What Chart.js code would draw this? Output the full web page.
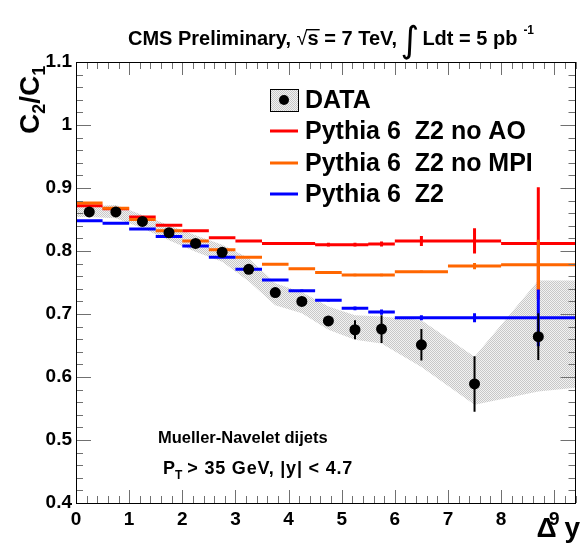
<!DOCTYPE html>
<html>
<head>
<meta charset="utf-8">
<script src="https://cdn.jsdelivr.net/npm/chart.js@4.4.0/dist/chart.umd.min.js"></script>
<style>
  html, body { margin: 0; padding: 0; background: #ffffff; }
  #wrap { position: relative; width: 581px; height: 545px; }
</style>
</head>
<body>
<div id="wrap"><canvas id="ratioChart" width="581" height="545"></canvas></div>
<script>
// Delta y binning
const binEdges = [0, 0.5, 1, 1.5, 2, 2.5, 3, 3.5, 4, 4.5, 5, 5.5, 6, 7, 8, 9.4];
const binCenters = [0.25, 0.75, 1.25, 1.75, 2.25, 2.75, 3.25, 3.75, 4.25, 4.75, 5.25, 5.75, 6.5, 7.5, 8.7];

// Data C2/C1 with stat errors
const dataValues = [0.862, 0.862, 0.847, 0.829, 0.812, 0.798, 0.771, 0.734, 0.720, 0.689, 0.675, 0.676, 0.651, 0.589, 0.664];
const dataErrors = [0.004, 0.004, 0.004, 0.004, 0.004, 0.004, 0.005, 0.005, 0.006, 0.008, 0.015, 0.022, 0.025, 0.044, 0.037];

// Systematic band around data
const bandX = [0, 0.25, 0.75, 1.25, 1.75, 2.25, 2.75, 3.25, 3.75, 4.25, 4.75, 5.25, 5.75, 6.5, 7.5, 8.7, 9.4];
const bandUpper = [0.871, 0.871, 0.873, 0.857, 0.841, 0.825, 0.810, 0.789, 0.749, 0.735, 0.712, 0.698, 0.696, 0.690, 0.632, 0.753, 0.753];
const bandLower = [0.854, 0.854, 0.852, 0.836, 0.817, 0.799, 0.783, 0.752, 0.714, 0.701, 0.675, 0.659, 0.653, 0.616, 0.556, 0.577, 0.583];

// Pythia 6 predictions
const noAoValues = [0.872, 0.867, 0.854, 0.841, 0.832, 0.821, 0.816, 0.812, 0.812, 0.810, 0.810, 0.811, 0.816, 0.816, 0.812];
const noAoErrors = [0.001, 0.001, 0.001, 0.001, 0.001, 0.001, 0.001, 0.001, 0.002, 0.003, 0.003, 0.004, 0.008, 0.020, 0.089];
const noMpiValues = [0.876, 0.868, 0.850, 0.832, 0.816, 0.802, 0.790, 0.779, 0.772, 0.766, 0.762, 0.762, 0.767, 0.776, 0.778];
const noMpiErrors = [0.001, 0.001, 0.001, 0.001, 0.001, 0.001, 0.001, 0.001, 0.001, 0.002, 0.002, 0.002, 0.002, 0.005, 0.040];
const z2Values = [0.848, 0.844, 0.835, 0.823, 0.808, 0.790, 0.771, 0.754, 0.737, 0.722, 0.709, 0.703, 0.694, 0.694, 0.694];
const z2Errors = [0.001, 0.001, 0.001, 0.001, 0.001, 0.001, 0.001, 0.001, 0.002, 0.002, 0.003, 0.004, 0.004, 0.007, 0.045];

// Axis tick labels
const xTickLabels = ["0", "1", "2", "3", "4", "5", "6", "7", "8", "9"];
const yTickLabels = ["0.4", "0.5", "0.6", "0.7", "0.8", "0.9", "1", "1.1"];

const legendLabels = ["DATA", "Pythia 6  Z2 no AO", "Pythia 6  Z2 no MPI", "Pythia 6  Z2"];

const RED = "#ff0000";
const ORANGE = "#ff6600";
const BLUE = "#0000ff";
const FONT = "'Liberation Sans', Arial, Helvetica, sans-serif";

// dotted grey fill like the ROOT band
function makeBandPattern() {
  const p = document.createElement("canvas");
  p.width = 2;
  p.height = 2;
  const pc = p.getContext("2d");
  pc.fillStyle = "#f2f2f2";
  pc.fillRect(0, 0, 2, 2);
  pc.fillStyle = "#c8c8c8";
  pc.fillRect(0, 0, 1, 1);
  pc.fillRect(1, 1, 1, 1);
  return pc.createPattern(p, "repeat");
}
const bandFill = makeBandPattern();

function histSegments(values) {
  const pts = [];
  values.forEach(function (v, i) {
    pts.push({ x: binEdges[i], y: v });
    pts.push({ x: binEdges[i + 1], y: v });
    pts.push({ x: binEdges[i + 1], y: null });
  });
  return pts;
}

function errorSegments(values, errors) {
  const pts = [];
  values.forEach(function (v, i) {
    pts.push({ x: binCenters[i], y: v - errors[i] });
    pts.push({ x: binCenters[i], y: v + errors[i] });
    pts.push({ x: binCenters[i], y: null });
  });
  return pts;
}

function lineSet(points, color, width) {
  return {
    type: "line",
    data: points,
    borderColor: color,
    borderWidth: width,
    pointRadius: 0,
    fill: false,
    spanGaps: false,
    tension: 0,
    borderCapStyle: "butt",
  };
}

// frame, ticks and all text, drawn the ROOT way
const rootStyle = {
  id: "rootStyle",
  afterDatasetsDraw: function (chart) {
    const ctx = chart.ctx;
    const xs = chart.scales.x;
    const ys = chart.scales.y;
    const a = chart.chartArea;
    ctx.save();

    // ticks
    ctx.strokeStyle = "#707070";
    ctx.lineWidth = 1;
    ctx.beginPath();
    for (let i = 0; i <= 47; i++) {
      const v = i * 0.2;
      if (v > 9.4 + 1e-6) break;
      const px = Math.round(xs.getPixelForValue(v)) + 0.5;
      const len = i % 5 === 0 ? 13 : 7;
      ctx.moveTo(px, a.bottom);
      ctx.lineTo(px, a.bottom - len);
      ctx.moveTo(px, a.top);
      ctx.lineTo(px, a.top + len);
    }
    for (let i = 0; i <= 35; i++) {
      const v = 0.4 + i * 0.02;
      const py = Math.round(ys.getPixelForValue(v)) + 0.5;
      const len = i % 5 === 0 ? 15 : 7;
      ctx.moveTo(a.left, py);
      ctx.lineTo(a.left + len, py);
      ctx.moveTo(a.right, py);
      ctx.lineTo(a.right - len, py);
    }
    ctx.stroke();

    // frame
    ctx.strokeStyle = "#000000";
    ctx.strokeRect(Math.round(a.left) + 0.5, Math.round(a.top) + 0.5,
      Math.round(a.right - a.left) - 1, Math.round(a.bottom - a.top));

    // tick labels
    ctx.fillStyle = "#000000";
    ctx.font = "bold 19px " + FONT;
    ctx.textAlign = "center";
    ctx.textBaseline = "alphabetic";
    xTickLabels.forEach(function (t) {
      ctx.fillText(t, xs.getPixelForValue(parseFloat(t)), a.bottom + 22);
    });
    ctx.textAlign = "right";
    ctx.textBaseline = "middle";
    yTickLabels.forEach(function (t) {
      ctx.fillText(t, a.left - 4, ys.getPixelForValue(parseFloat(t)));
    });

    // y title C2/C1
    ctx.save();
    ctx.translate(39, 134);
    ctx.rotate(-Math.PI / 2);
    ctx.textAlign = "left";
    ctx.textBaseline = "alphabetic";
    let x = 0;
    ctx.font = "bold 28px " + FONT;
    ctx.fillText("C", x, 0); x += ctx.measureText("C").width;
    ctx.font = "bold 18px " + FONT;
    ctx.fillText("2", x, 6); x += ctx.measureText("2").width;
    ctx.font = "bold 28px " + FONT;
    ctx.fillText("/C", x, 0); x += ctx.measureText("/C").width;
    ctx.font = "bold 18px " + FONT;
    ctx.fillText("1", x, 6);
    ctx.restore();

    // x title
    ctx.textAlign = "right";
    ctx.textBaseline = "alphabetic";
    ctx.font = "bold 28px " + FONT;
    ctx.fillText("\u0394 y", 580, 537);

    // header, laid out piece by piece
    ctx.textAlign = "left";
    const hy = 45;
    const bold = "bold 20px " + FONT;
    let hx = 128;
    ctx.font = bold;
    ctx.fillText("CMS Preliminary, ", hx, hy); hx += ctx.measureText("CMS Preliminary, ").width;
    ctx.font = "20px " + FONT;
    ctx.fillText("\u221A", hx, hy); hx += ctx.measureText("\u221A").width;
    ctx.font = bold;
    const sW = ctx.measureText("s").width;
    ctx.fillText("s", hx, hy);
    ctx.fillRect(hx - 1, hy - 16, sW + 2, 1.4);
    hx += sW;
    ctx.fillText(" = 7 TeV, ", hx, hy); hx += ctx.measureText(" = 7 TeV, ").width;
    ctx.font = "36px 'DejaVu Sans', sans-serif";
    ctx.fillText("\u222B", hx - 2, hy + 7); hx += ctx.measureText("\u222B").width + 1;
    ctx.font = bold;
    ctx.fillText("Ldt = 5 pb", hx, hy); hx += ctx.measureText("Ldt = 5 pb").width + 6;
    ctx.font = "bold 12px " + FONT;
    ctx.fillText("-1", hx, hy - 11);

    // annotation
    ctx.font = "bold 16.5px " + FONT;
    ctx.textAlign = "left";
    ctx.fillText("Mueller-Navelet dijets", 158, 443);
    let px2 = 163;
    ctx.font = "bold 18px " + FONT;
    ctx.fillText("P", px2, 474); px2 += ctx.measureText("P").width;
    ctx.font = "bold 12px " + FONT;
    ctx.fillText("T", px2, 479); px2 += ctx.measureText("T").width + 5;
    ctx.font = "bold 18px " + FONT;
    ctx.letterSpacing = "0.8px";
    ctx.fillText("> 35 GeV, |y| < 4.7", px2, 474);
    ctx.letterSpacing = "0px";

    // legend
    const lx = 270, lw = 28, tx = 305;
    const rows = [100, 131, 163, 194];
    ctx.fillStyle = bandFill;
    ctx.fillRect(lx, rows[0] - 11, lw, 22);
    ctx.strokeStyle = "#000000";
    ctx.lineWidth = 1;
    ctx.strokeRect(lx + 0.5, rows[0] - 10.5, lw, 22);
    ctx.fillStyle = "#000000";
    ctx.beginPath();
    ctx.arc(lx + lw / 2, rows[0], 5, 0, Math.PI * 2);
    ctx.fill();
    const legColors = [null, RED, ORANGE, BLUE];
    ctx.lineWidth = 3;
    for (let i = 1; i < 4; i++) {
      ctx.strokeStyle = legColors[i];
      ctx.beginPath();
      ctx.moveTo(lx, rows[i]);
      ctx.lineTo(lx + lw, rows[i]);
      ctx.stroke();
    }
    ctx.fillStyle = "#000000";
    ctx.font = "bold 25px " + FONT;
    ctx.textBaseline = "middle";
    legendLabels.forEach(function (t, i) {
      ctx.fillText(t, tx, rows[i] + 1);
    });

    ctx.restore();
  },
};

const chartCtx = document.getElementById("ratioChart").getContext("2d");
const ratioChart = new Chart(chartCtx, {
  type: "scatter",
  data: {
    datasets: [
      {
        type: "scatter",
        data: binCenters.map(function (c, i) { return { x: c, y: dataValues[i] }; }),
        pointRadius: 5.5,
        pointBackgroundColor: "#000000",
        pointBorderWidth: 0,
        showLine: false,
      },
      lineSet(errorSegments(dataValues, dataErrors), "#000000", 2),
      lineSet(errorSegments(z2Values, z2Errors), BLUE, 3),
      lineSet(histSegments(z2Values), BLUE, 3),
      lineSet(errorSegments(noMpiValues, noMpiErrors), ORANGE, 3),
      lineSet(histSegments(noMpiValues), ORANGE, 3),
      lineSet(errorSegments(noAoValues, noAoErrors), RED, 3),
      lineSet(histSegments(noAoValues), RED, 3),
      {
        type: "line",
        data: bandX.map(function (x, i) { return { x: x, y: bandUpper[i] }; }),
        borderWidth: 0,
        pointRadius: 0,
        backgroundColor: bandFill,
        fill: "+1",
        tension: 0,
      },
      {
        type: "line",
        data: bandX.map(function (x, i) { return { x: x, y: bandLower[i] }; }),
        borderWidth: 0,
        pointRadius: 0,
        fill: false,
        tension: 0,
      },
    ],
  },
  options: {
    responsive: false,
    animation: false,
    devicePixelRatio: 1,
    layout: { padding: { left: 76, right: 2, top: 62, bottom: 42 } },
    scales: {
      x: { type: "linear", min: 0, max: 9.4, display: false },
      y: { type: "linear", min: 0.4, max: 1.1, display: false },
    },
    plugins: {
      legend: { display: false },
      tooltip: { enabled: false },
    },
  },
  plugins: [rootStyle],
});
</script>
</body>
</html>
